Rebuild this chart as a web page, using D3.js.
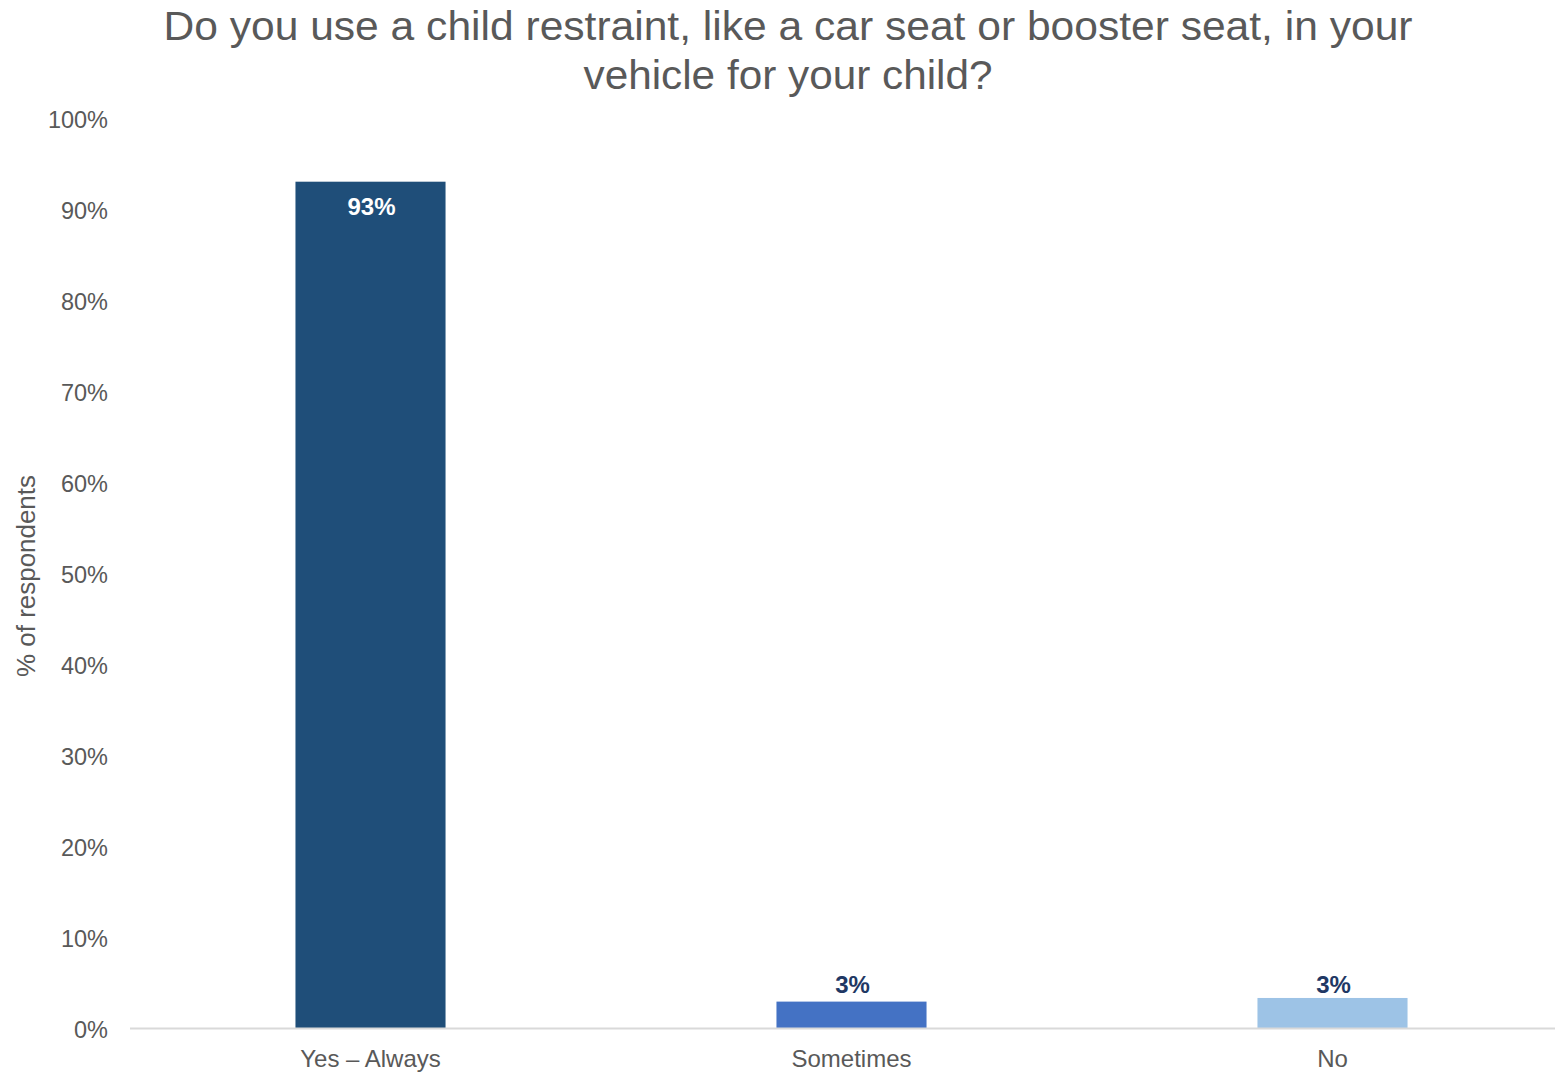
<!DOCTYPE html>
<html><head><meta charset="utf-8">
<script src="https://cdn.jsdelivr.net/npm/d3@7/dist/d3.min.js"></script>
<style>html,body{margin:0;padding:0;background:#fff;}svg{display:block;}</style>
</head><body>
<svg id="chart" width="1555" height="1072"></svg>
<script>
const categories = ["Yes \u2013 Always", "Sometimes", "No"];
const values = [93, 2.9, 3.3];
const valueLabels = ["93%", "3%", "3%"];
const barColors = ["#1f4e79", "#4472c4", "#9dc3e6"];
const labelColors = ["#ffffff", "#1f3864", "#1f3864"];
const yTicks = [0, 10, 20, 30, 40, 50, 60, 70, 80, 90, 100];
const titleLines = ["Do you use a child restraint, like a car seat or booster seat, in your", "vehicle for your child?"];
const yAxisTitle = "% of respondents";

const svg = d3.select("#chart");
const font = "'Liberation Sans', Arial, sans-serif";
const grey = "#595959";

const x = d3.scaleBand().domain(categories).range([130, 1573]).paddingInner(0.688).paddingOuter(0.344);
const y = d3.scaleLinear().domain([0, 100]).range([1028, 118]);

// title
const titleWidths = [1249, 409];
const titleBase = [40, 89];
titleLines.forEach((t, i) => {
  svg.append("text").attr("x", 788).attr("y", titleBase[i])
    .attr("text-anchor", "middle").attr("font-family", font).attr("font-size", 40)
    .attr("fill", grey).attr("textLength", titleWidths[i]).attr("lengthAdjust", "spacingAndGlyphs")
    .text(t);
});

// y tick labels
svg.append("g").selectAll("text").data(yTicks).join("text")
  .attr("x", 108).attr("y", d => y(d) + 10)
  .attr("text-anchor", "end").attr("font-family", font).attr("font-size", 23.5)
  .attr("fill", grey).text(d => d + "%");

// y axis title
svg.append("text").attr("transform", "translate(35,576) rotate(-90)")
  .attr("text-anchor", "middle").attr("font-family", font).attr("font-size", 25)
  .attr("fill", grey).attr("textLength", 202).attr("lengthAdjust", "spacingAndGlyphs")
  .text(yAxisTitle);

// bars
svg.append("g").selectAll("rect").data(values).join("rect")
  .attr("x", (d, i) => x(categories[i])).attr("width", x.bandwidth())
  .attr("y", d => y(d)).attr("height", d => y(0) - y(d))
  .attr("fill", (d, i) => barColors[i]);

// axis line
svg.append("line").attr("x1", 130).attr("x2", 1555).attr("y1", y(0) + 0.5).attr("y2", y(0) + 0.5)
  .attr("stroke", "#d9d9d9").attr("stroke-width", 2);

// category labels
svg.append("g").selectAll("text").data(categories).join("text")
  .attr("x", d => x(d) + x.bandwidth() / 2).attr("y", 1067)
  .attr("text-anchor", "middle").attr("font-family", font).attr("font-size", 24)
  .attr("fill", grey).text(d => d);

// value labels
svg.append("g").selectAll("text").data(values).join("text")
  .attr("x", (d, i) => x(categories[i]) + x.bandwidth() / 2 + 1)
  .attr("y", (d, i) => i === 0 ? y(d) + 33 : y(Math.round(d)) - 8)
  .attr("text-anchor", "middle").attr("font-family", font).attr("font-size", 24)
  .attr("font-weight", "bold").attr("fill", (d, i) => labelColors[i])
  .text((d, i) => valueLabels[i]);
</script>
</body></html>
